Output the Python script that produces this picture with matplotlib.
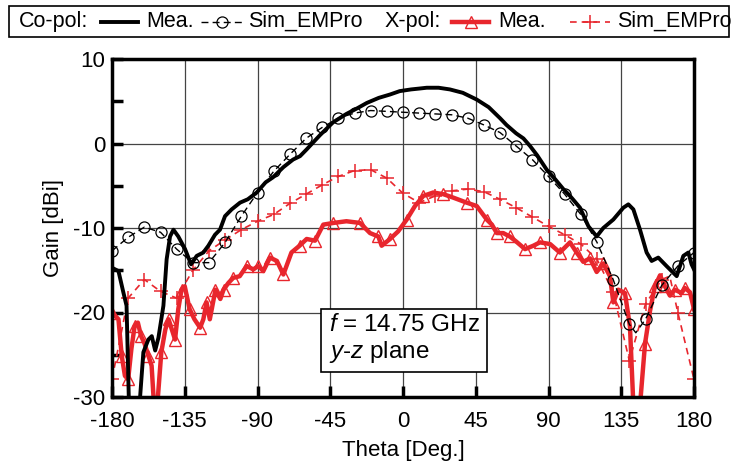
import numpy as np
import matplotlib.pyplot as plt
from matplotlib.lines import Line2D
from matplotlib.patches import Rectangle

plt.rcParams['font.family'] = ['Liberation Sans', 'DejaVu Sans']
plt.rcParams['mathtext.fontset'] = 'custom'
plt.rcParams['mathtext.it'] = 'Liberation Sans:italic'
plt.rcParams['mathtext.rm'] = 'Liberation Sans'
plt.rcParams['axes.unicode_minus'] = False

RED = '#e8262d'

# Co-pol, measured
co_mea_theta = [-180, -176, -173, -171, -169.5, -163, -160.6, -157.5, -155.4, -153.3, -151.3,
                -148.2, -146.2, -144.1, -142, -139, -134.8, -131.1, -127.6, -123.5, -120.4,
                -116.3, -113.2, -110.1, -106, -100.8, -96, -90.5, -85, -80.4, -74, -68, -63.7,
                -59.6, -51.3, -43.3, -35, -28, -22.4, -15, -8, -2, 5, 10, 14.7, 22, 29, 37,
                45.6, 53, 60, 64, 70, 74.5, 78.6, 83, 88.9, 94, 99.2, 103.3, 109.5, 114.7,
                119.8, 123.9, 130.1, 136.3, 139.4, 142.5, 146.6, 150.7, 153.8, 157.9, 163,
                169.3, 173.4, 176.5, 178.5, 180]
co_mea_gain = [-14.7, -15.1, -17.6, -19.2, -31, -31, -24.7, -23.2, -22.8, -24.5, -23.0,
               -19.2, -13.7, -11.0, -10.2, -11.0, -12.5, -14.3, -13.3, -12.9, -12.1,
               -10.8, -10.2, -8.6, -7.8, -7.0, -6.6, -5.8, -4.6, -4.0, -2.8, -1.9, -1.5,
               -0.7, 1.0, 2.5, 3.5, 4.2, 4.8, 5.4, 5.8, 6.2, 6.4, 6.5, 6.6, 6.6, 6.4, 6.0,
               5.2, 4.3, 3.0, 2.2, 1.2, 0.6, -0.3, -1.4, -3.1, -4.2, -5.4, -6.2, -7.6, -9.8,
               -11.0, -10.0, -9.0, -7.6, -7.2, -7.8, -10.2, -12.9, -13.9, -13.5, -14.5,
               -15.7, -13.3, -12.9, -14.3, -14.9]

# Co-pol, simulated (EMPro)
co_sim_theta = [-180, -170, -160, -150, -140, -130, -120, -110, -100, -90, -80, -70, -60,
                -50, -40, -30, -20, -10, 0, 10, 20, 30, 40, 50, 60, 70, 80, 90, 100, 110,
                120, 130, 140, 144, 150, 160, 170, 180]
co_sim_gain = [-12.7, -11.1, -9.9, -10.5, -12.5, -14.1, -14.1, -11.7, -8.6, -5.8, -3.3,
               -1.3, 0.6, 1.9, 3.0, 3.6, 3.9, 3.8, 3.7, 3.6, 3.5, 3.4, 3.0, 2.2, 1.3, -0.3,
               -1.9, -3.9, -6.0, -8.4, -11.7, -16.1, -21.4, -22.4, -20.8, -16.8, -14.5, -12.9]

# X-pol, measured
x_mea_theta = [-180, -176, -174, -172, -170, -168, -166, -164, -162, -160, -157.5, -155.5,
               -154, -152, -149.5, -147, -145, -143, -141, -139, -137, -135, -132, -129,
               -125.5, -123.5, -121.5, -119.5, -116, -113, -111, -108, -105, -101, -96.7,
               -92.6, -89.5, -86.4, -82.3, -78, -74, -69, -64, -59.6, -54.4, -49.3, -43,
               -35, -26.6, -20.4, -15.3, -13.2, -8, -3, 2.3, 7.4, 12.6, 18.7, 25, 31, 39.4,
               45.6, 51.8, 55, 58, 62, 66, 70, 75.5, 80.6, 84.7, 91, 97, 103.3, 107.4,
               111.5, 115.7, 119.8, 123.9, 128, 130.1, 133.2, 137.3, 140.4, 142.5, 146.6,
               149.7, 152.8, 155.8, 159, 162, 165.1, 168.2, 172.3, 174.4, 177.5, 180]
x_mea_gain = [-20.0, -20.8, -25.1, -27.5, -27.9, -24.3, -21.6, -21.2, -22.8, -23.6, -25.1,
              -26.3, -31, -31, -24.7, -22.0, -20.8, -22.0, -23.2, -19.6, -17.3, -16.9, -19.6,
              -20.8, -21.8, -20.8, -18.8, -20.8, -17.3, -18.4, -17.3, -16.5, -15.9, -15.7,
              -14.5, -14.9, -14.5, -15.1, -13.5, -13.9, -15.5, -12.9, -12.1, -11.3, -11.5,
              -9.6, -9.4, -9.2, -9.4, -10.6, -11.0, -12.1, -11.3, -10.4, -9.0, -7.4, -6.2,
              -5.8, -6.0, -6.4, -7.0, -7.4, -9.0, -9.6, -10.6, -10.6, -11.0, -11.6, -12.5,
              -12.1, -11.7, -11.9, -12.9, -11.7, -12.9, -14.0, -13.6, -15.2, -14.2, -15.7,
              -18.8, -17.3, -17.7, -21.7, -31, -31, -23.7, -19.8, -16.9, -15.6, -16.9,
              -18.0, -17.3, -17.7, -17.1, -17.6, -19.6]

# X-pol, simulated (EMPro)
x_sim_theta = [-180, -170, -160, -150, -140, -130, -120, -110, -100, -90, -80, -70, -60,
               -50, -40, -30, -20, -10, 0, 10, 20, 30, 40, 50, 60, 70, 80, 90, 100, 110,
               120, 130, 140, 150, 160, 165, 170, 180]
x_sim_gain = [-27.9, -18.3, -16.1, -17.5, -18.3, -15.0, -12.7, -11.4, -10.2, -9.2, -8.4,
              -7.1, -6.0, -4.9, -3.9, -3.2, -3.1, -4.1, -5.9, -7.0, -6.2, -5.6, -5.4, -5.7,
              -6.6, -7.6, -8.7, -9.8, -10.8, -11.9, -13.7, -17.6, -25.7, -19.0, -16.1,
              -15.7, -20.0, -27.9]

xticks = [-180, -135, -90, -45, 0, 45, 90, 135, 180]
yticks = [-30, -20, -10, 0, 10]

co_mea_style = dict(color='black', lw=2.8)
co_sim_style = dict(color='black', lw=1.0, dashes=(5, 3), marker='o', ms=8,
                    mfc='none', mew=0.9)
x_mea_style = dict(color=RED, lw=3.2, marker='^', ms=9, mfc='none', mew=1.0)
x_sim_style = dict(color=RED, lw=1.2, dashes=(4, 3), marker='+', ms=10, mew=1.1)

fig = plt.figure(figsize=(7.34, 4.67), dpi=100)
ax = fig.add_axes([112 / 734, 1 - 397 / 467, 582 / 734, 338 / 467])

co_sim_marks = [i for i, t in enumerate(co_sim_theta) if t % 10 == 0]
x_sim_marks = [i for i, t in enumerate(x_sim_theta) if t % 10 == 0]

ax.plot(x_sim_theta, x_sim_gain, markevery=x_sim_marks, **x_sim_style)
ax.plot(x_mea_theta, x_mea_gain, markevery=2, **x_mea_style)
ax.plot(co_sim_theta, co_sim_gain, markevery=co_sim_marks, **co_sim_style)
ax.plot(co_mea_theta, co_mea_gain, **co_mea_style)

ax.set_xlim(-180, 180)
ax.set_ylim(-30, 10)
ax.set_xticks(xticks)
ax.set_yticks(yticks)
ax.set_yticks([-25, -15, -5, 5], minor=True)
ax.set_xticklabels([str(v) for v in xticks])
ax.set_yticklabels([str(v) for v in yticks])
ax.grid(True, which='major', color='#444444', lw=0.9)
ax.set_axisbelow(True)
ax.tick_params(which='both', direction='in', length=8, width=2.5, labelsize=16,
               top=False, right=False)
ax.tick_params(axis='x', pad=10)
ax.tick_params(axis='y', pad=5)
for s in ax.spines.values():
    s.set_linewidth(2.5)
ax.set_xlabel('Theta [Deg.]', fontsize=16, labelpad=6)
ax.set_ylabel('Gain [dBi]', fontsize=16, labelpad=6)

ax.text(0.372, 0.2456, '$f$ = 14.75 GHz\n$y$-$z$ plane', transform=ax.transAxes,
        fontsize=17.5, va='top', ha='left', linespacing=1.15,
        bbox=dict(boxstyle='square,pad=0.3', fc='white', ec='black', lw=1.2))

# legend strip across the top
lg = fig.add_axes([0, 1 - 40 / 467, 1, 40 / 467])
lg.set_xlim(0, 734)
lg.set_ylim(40, 0)
lg.axis('off')
lg.add_patch(Rectangle((9, 6), 720, 31, fill=False, ec='black', lw=1.2))
ymid = 21.5
lg.text(19, ymid, 'Co-pol:', fontsize=15.5, va='center')
lg.add_line(Line2D([101, 138], [ymid, ymid], **co_mea_style))
lg.text(146, ymid, 'Mea.', fontsize=15.5, va='center')
lg.add_line(Line2D([201, 222, 243], [ymid] * 3, markevery=[1], **co_sim_style))
lg.text(248, ymid, 'Sim_EMPro', fontsize=15.5, va='center')
lg.text(385, ymid, 'X-pol:', fontsize=15.5, va='center')
lg.add_line(Line2D([452, 470.5, 489], [ymid] * 3, markevery=[1], **x_mea_style))
lg.text(498, ymid, 'Mea.', fontsize=15.5, va='center')
lg.add_line(Line2D([570, 590, 610], [ymid] * 3, markevery=[1], **x_sim_style))
lg.text(617, ymid, 'Sim_EMPro', fontsize=15.5, va='center')

fig.savefig('out.png', dpi=100)
